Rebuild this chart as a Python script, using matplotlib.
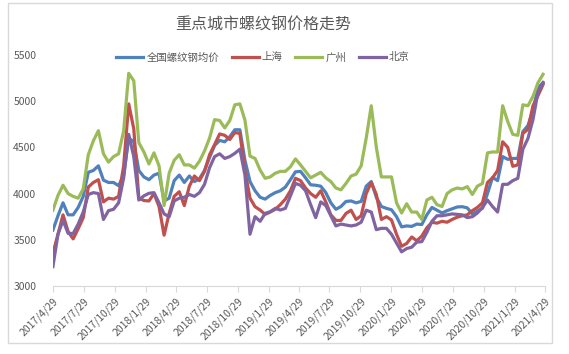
import matplotlib.pyplot as plt
import matplotlib.patches as patches
import pandas as pd

plt.rcParams['font.family'] = ['Noto Sans CJK SC', 'DejaVu Sans']

# 数值从图上读取, 每15天一个点, 从2017/4/29开始
quanguo = [3606, 3760, 3900, 3770, 3770, 3850, 3970, 4230, 4250, 4300,
           4145, 4120, 4120, 4085, 4200, 4600, 4560, 4250, 4180, 4150,
           4200, 4220, 3920, 3950, 4140, 4200, 4120, 4190, 4130, 4160,
           4250, 4390, 4520, 4575, 4560, 4615, 4690, 4690, 4360, 4130,
           4030, 3960, 3940, 3980, 4010, 4030, 4070, 4150, 4235, 4240,
           4170, 4095, 4090, 4080, 4010, 3900, 3830, 3860, 3915, 3920,
           3900, 3915, 4080, 4130, 3960, 3860, 3840, 3825, 3750, 3640,
           3650, 3645, 3670, 3665, 3770, 3850, 3820, 3790, 3815, 3835,
           3855, 3858, 3845, 3780, 3810, 3840, 4000, 4175, 4140, 4400,
           4370, 4380, 4380, 4670, 4735, 4900, 5145, 5200]
shanghai = [3354, 3560, 3770, 3590, 3510, 3620, 3740, 4070, 4120, 4150,
            3910, 3950, 3940, 3970, 4300, 4970, 4700, 3950, 3925, 3920,
            4000, 3860, 3550, 3786, 3970, 4020, 3870, 4080, 4190, 4140,
            4240, 4420, 4530, 4645, 4630, 4585, 4660, 4650, 4250, 3950,
            3858, 3822, 3775, 3800, 3830, 3880, 3940, 4030, 4165, 4140,
            4060, 4000, 3960, 4030, 3910, 3770, 3710, 3710, 3785, 3820,
            3720, 3760, 4000, 4120, 3990, 3720, 3750, 3715, 3560, 3430,
            3460, 3530, 3490, 3540, 3630, 3690, 3680, 3700, 3690, 3720,
            3745, 3760, 3770, 3815, 3850, 3900, 4120, 4170, 4250, 4560,
            4500, 4295, 4310, 4650, 4695, 4950, 5060, 5180]
guangzhou = [3820, 3980, 4090, 4000, 3970, 3950, 4050, 4420, 4570, 4680,
             4430, 4340, 4400, 4430, 4680, 5300, 5220, 4550, 4450, 4320,
             4440, 4300, 3870, 4220, 4360, 4420, 4310, 4310, 4275, 4350,
             4460, 4600, 4800, 4790, 4710, 4790, 4960, 4970, 4795, 4405,
             4380, 4255, 4165, 4180, 4220, 4240, 4240, 4290, 4375, 4310,
             4240, 4170, 4200, 4230, 4170, 4130, 4060, 4040, 4110, 4190,
             4210, 4300, 4600, 4950, 4500, 4180, 4180, 4180, 3900, 3790,
             3890, 3800, 3800, 3720, 3930, 3960, 3880, 3860, 4000, 4040,
             4060, 4050, 4075, 3990, 4080, 4110, 4440, 4450, 4450, 4950,
             4780, 4640, 4630, 4960, 4950, 5050, 5200, 5290]
beijing = [3210, 3560, 3710, 3570, 3568, 3670, 3800, 3990, 4010, 4000,
           3720, 3815, 3830, 3900, 4170, 4640, 4400, 3930, 3975, 4003,
           4010, 3900, 3780, 3750, 3920, 3950, 3960, 3990, 3970, 4010,
           4100, 4280, 4400, 4430, 4380, 4400, 4435, 4480, 4200, 3560,
           3750, 3700, 3786, 3804, 3840, 3822, 3840, 3975, 4110, 4090,
           4030, 3880, 3740, 3910, 3870, 3760, 3650, 3670, 3660, 3650,
           3660, 3690, 3820, 3800, 3610, 3624, 3624, 3560, 3465, 3370,
           3405, 3420, 3475, 3480, 3580, 3700, 3760, 3760, 3770, 3780,
           3775, 3770, 3740, 3750, 3790, 3850, 3930, 3860, 3800, 4100,
           4100, 4140, 4165, 4480, 4595, 4800, 5100, 5200]

riqi = pd.date_range('2017-04-29', periods=len(quanguo), freq='15D')

tick_labels = ['2017/4/29', '2017/7/29', '2017/10/29', '2018/1/29', '2018/4/29',
               '2018/7/29', '2018/10/29', '2019/1/29', '2019/4/29', '2019/7/29',
               '2019/10/29', '2020/1/29', '2020/4/29', '2020/7/29', '2020/10/29',
               '2021/1/29', '2021/4/29']
tick_pos = pd.to_datetime(tick_labels, format='%Y/%m/%d')

fig = plt.figure(figsize=(5.69, 3.54), dpi=100)
ax = fig.add_axes([0.093, 0.192, 0.865, 0.653])

lw = 2.3
ax.plot(riqi, quanguo, color='#4F81BD', lw=lw, label='全国螺纹钢均价')
ax.plot(riqi, shanghai, color='#C0504D', lw=lw, label='上海')
ax.plot(riqi, guangzhou, color='#9BBB59', lw=lw, label='广州')
ax.plot(riqi, beijing, color='#8064A2', lw=lw, label='北京')

ax.set_xlim(tick_pos[0], tick_pos[-1])
ax.set_ylim(3000, 5500)
ax.set_yticks([3000, 3500, 4000, 4500, 5000, 5500])
ax.set_xticks(tick_pos)
ax.set_xticklabels(tick_labels, rotation=45, ha='right', rotation_mode='anchor')
ax.tick_params(axis='x', length=4, color='#d9d9d9', labelsize=7.5, labelcolor='#595959', pad=3)
ax.tick_params(axis='y', length=0, labelsize=7.5, labelcolor='#595959', pad=12)

for s in ['top', 'right', 'left']:
    ax.spines[s].set_visible(False)
ax.spines['bottom'].set_color('#d9d9d9')

fig.text(0.462, 0.929, '重点城市螺纹钢价格走势', ha='center', va='center',
         fontsize=11.5, color='#595959')
fig.legend(loc='center', bbox_to_anchor=(0.462, 0.838), ncol=4, frameon=False,
           fontsize=7.5, handlelength=2.6, columnspacing=1.2, handletextpad=0.3,
           labelcolor='#595959')

# 外框
fig.patches.append(patches.Rectangle((8 / 569, 1 - 343 / 354), 544 / 569, 340 / 354,
                                     transform=fig.transFigure, fill=False,
                                     edgecolor='#d9d9d9', lw=1))

fig.savefig('out.png', dpi=100)
